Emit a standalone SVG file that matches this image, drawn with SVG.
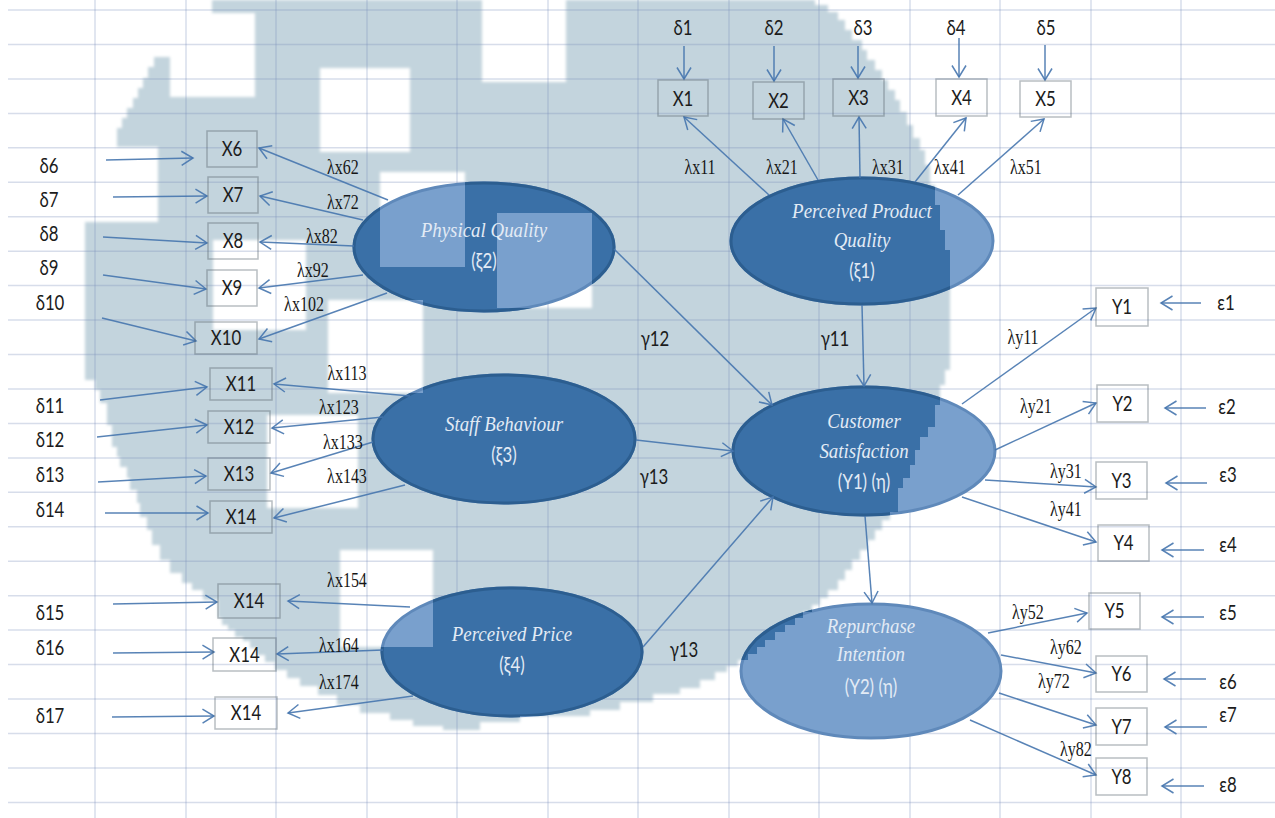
<svg xmlns="http://www.w3.org/2000/svg" width="1275" height="818" viewBox="0 0 1275 818">
  <defs>
    <style>
      .grid line { stroke: #7b8fb8; stroke-opacity: 0.3; stroke-width: 1.5; }
      .blob { fill: #c3d4dd; }
      .lat-light { fill: #79a0cd; stroke: #5f89ba; stroke-width: 3; }
      .lat-dark { fill: #3a70a7; stroke: #2c5e90; stroke-width: 3; }
      text { transform-box: fill-box; transform-origin: center; text-anchor: middle; }
      .lt { font-family: "Liberation Serif", serif; font-style: italic; font-size: 21px; fill: #e3ebf5; transform: scaleX(0.9); }
      .ls { font-family: Lato, "Liberation Sans", sans-serif; font-size: 21px; fill: #e3ebf5; transform: scaleX(0.8); }
      .box rect { fill: none; stroke: #56636d; stroke-opacity: 0.42; stroke-width: 1.5; }
      .s { font-family: Lato, "Liberation Sans", sans-serif; font-size: 21px; fill: #1c1c1c; transform: scaleX(0.8); }
      .lam { font-family: "Liberation Serif", serif; font-size: 20px; fill: #161616; transform: scaleX(0.8); }
      .conn line { stroke: #4675ae; stroke-opacity: 0.9; stroke-width: 1.5; fill: none; marker-end: url(#arr); }
    </style>
    <marker id="arr" viewBox="0 0 16 16" markerWidth="16" markerHeight="16" refX="13" refY="8" orient="auto" markerUnits="userSpaceOnUse" overflow="visible">
      <path d="M1.5,1 L13,8 L1.5,15" fill="none" stroke="#4675ae" stroke-opacity="0.9" stroke-width="1.5"/>
    </marker>
    <!-- pixelated watermark silhouette with its square cut-outs -->
    <path id="blobShape" fill-rule="evenodd" clip-rule="evenodd" d="M212,0 H815 V5 H828 V12 H838 V20 H845 V30 H852 V40 H862 V50 H867 V60 H875 V70 H882 V80 H888 V90 H895 V100 H900 V112 H907 V125 H913 V138 H920 V150 H925 V165 H930 V185 H935 V205 H940 V230 H945 V250 H950 V370 H945 V385 H940 V405 H935 V427 H928 V437 H920 V450 H915 V465 H910 V478 H903 V488 H898 V512 H890 V520 H882 V530 H875 V540 H868 V550 H860 V560 H852 V570 H845 V580 H838 V590 H828 V598 H820 V605 H812 V612 H803 V618 H795 V625 H785 V632 H775 V640 H765 V647 H757 V654 H748 V660 H738 V666 H727 V672 H715 V680 H700 V688 H680 V694 H653 V702 H620 V710 H590 V716 H520 V722 H480 V730 H443 V726 H413 V720 H390 V713 H360 V705 H337 V695 H318 V686 H300 V678 H287 V670 H275 V662 H265 V655 H257 V648 H250 V641 H243 V637 H235 V630 H228 V625 H222 V618 H218 V600 H203 V590 H192 V583 H182 V573 H170 V560 H160 V545 H152 V530 H147 V517 H140 V503 H137 V490 H130 V478 H127 V467 H120 V457 H117 V447 H112 V425 H107 V403 H100 V390 H95 V380 H85 V222 H158 V147 H117 V128 H122 V118 H127 V108 H133 V98 H138 V88 H143 V78 H148 V67 H154 V57 H170 V97 H255 V13 H212 Z
      M320,68 H410 V152 H320 Z
      M482,0 H566 V82 H482 Z
      M380,172 H465 V267 H380 Z
      M497,213 H592 V308 H497 Z
      M213,240 H306 V330 H213 Z
      M328,300 H423 V393 H328 Z
      M267,415 H358 V508 H267 Z
      M340,550 H433 V647 H340 Z"/>
    <clipPath id="blobClip">
      <use href="#blobShape"/>
    </clipPath>
    <filter id="soft" x="-5%" y="-5%" width="110%" height="110%">
      <feGaussianBlur stdDeviation="1.5"/>
    </filter>
  </defs>

  <rect width="1275" height="818" fill="#ffffff"/>

  <!-- background silhouette -->
  <use href="#blobShape" class="blob" filter="url(#soft)"/>

  <!-- sheet grid -->
  <g class="grid">
    <line x1="95" y1="0" x2="95" y2="818"/>
    <line x1="186" y1="0" x2="186" y2="818"/>
    <line x1="276" y1="0" x2="276" y2="818"/>
    <line x1="367" y1="0" x2="367" y2="818"/>
    <line x1="457" y1="0" x2="457" y2="818"/>
    <line x1="548" y1="0" x2="548" y2="818"/>
    <line x1="638" y1="0" x2="638" y2="818"/>
    <line x1="729" y1="0" x2="729" y2="818"/>
    <line x1="819" y1="0" x2="819" y2="818"/>
    <line x1="910" y1="0" x2="910" y2="818"/>
    <line x1="1000" y1="0" x2="1000" y2="818"/>
    <line x1="1091" y1="0" x2="1091" y2="818"/>
    <line x1="1181" y1="0" x2="1181" y2="818"/>
    <line x1="8" y1="10" x2="1275" y2="10"/>
    <line x1="8" y1="44.5" x2="1275" y2="44.5"/>
    <line x1="8" y1="78.9" x2="1275" y2="78.9"/>
    <line x1="8" y1="113.4" x2="1275" y2="113.4"/>
    <line x1="8" y1="147.8" x2="1275" y2="147.8"/>
    <line x1="8" y1="182.3" x2="1275" y2="182.3"/>
    <line x1="8" y1="216.7" x2="1275" y2="216.7"/>
    <line x1="8" y1="251.2" x2="1275" y2="251.2"/>
    <line x1="8" y1="285.6" x2="1275" y2="285.6"/>
    <line x1="8" y1="320.1" x2="1275" y2="320.1"/>
    <line x1="8" y1="354.5" x2="1275" y2="354.5"/>
    <line x1="8" y1="389" x2="1275" y2="389"/>
    <line x1="8" y1="423.4" x2="1275" y2="423.4"/>
    <line x1="8" y1="457.9" x2="1275" y2="457.9"/>
    <line x1="8" y1="492.3" x2="1275" y2="492.3"/>
    <line x1="8" y1="526.8" x2="1275" y2="526.8"/>
    <line x1="8" y1="561.2" x2="1275" y2="561.2"/>
    <line x1="8" y1="595.7" x2="1275" y2="595.7"/>
    <line x1="8" y1="630.1" x2="1275" y2="630.1"/>
    <line x1="8" y1="664.6" x2="1275" y2="664.6"/>
    <line x1="8" y1="699" x2="1275" y2="699"/>
    <line x1="8" y1="733.5" x2="1275" y2="733.5"/>
    <line x1="8" y1="767.9" x2="1275" y2="767.9"/>
    <line x1="8" y1="802.4" x2="1275" y2="802.4"/>
  </g>

  <!-- latent constructs -->
  <g id="physical-quality">
    <ellipse class="lat-light" cx="484" cy="247" rx="130" ry="64"/>
    <ellipse class="lat-dark" cx="484" cy="247" rx="130" ry="64" clip-path="url(#blobClip)"/>
    <text class="lt" x="484" y="237">Physical Quality</text>
    <text class="ls" x="484" y="268">(ξ2)</text>
  </g>
  <g id="perceived-product-quality">
    <ellipse class="lat-light" cx="862" cy="241" rx="131" ry="63"/>
    <ellipse class="lat-dark" cx="862" cy="241" rx="131" ry="63" clip-path="url(#blobClip)"/>
    <text class="lt" x="862" y="218">Perceived Product</text>
    <text class="lt" x="862" y="247">Quality</text>
    <text class="ls" x="862" y="278">(ξ1)</text>
  </g>
  <g id="staff-behaviour">
    <ellipse class="lat-light" cx="504" cy="439" rx="131" ry="64"/>
    <ellipse class="lat-dark" cx="504" cy="439" rx="131" ry="64" clip-path="url(#blobClip)"/>
    <text class="lt" x="504" y="431">Staff Behaviour</text>
    <text class="ls" x="504" y="462">(ξ3)</text>
  </g>
  <g id="customer-satisfaction">
    <ellipse class="lat-light" cx="864" cy="451" rx="131" ry="64"/>
    <ellipse class="lat-dark" cx="864" cy="451" rx="131" ry="64" clip-path="url(#blobClip)"/>
    <text class="lt" x="864" y="428">Customer</text>
    <text class="lt" x="864" y="458">Satisfaction</text>
    <text class="ls" x="864" y="489">(Y1) (η)</text>
  </g>
  <g id="perceived-price">
    <ellipse class="lat-light" cx="512" cy="652" rx="130" ry="64"/>
    <ellipse class="lat-dark" cx="512" cy="652" rx="130" ry="64" clip-path="url(#blobClip)"/>
    <text class="lt" x="512" y="641">Perceived Price</text>
    <text class="ls" x="512" y="672">(ξ4)</text>
  </g>
  <g id="repurchase-intention">
    <ellipse class="lat-light" cx="871" cy="671" rx="130" ry="67"/>
    <ellipse class="lat-dark" cx="871" cy="671" rx="130" ry="67" clip-path="url(#blobClip)"/>
    <text class="lt" x="871" y="633">Repurchase</text>
    <text class="lt" x="871" y="661">Intention</text>
    <text class="ls" x="871" y="694">(Y2) (η)</text>
  </g>

  <!-- paths and loadings -->
  <g id="connectors" class="conn">
    <line x1="684" y1="46" x2="684" y2="79"/>
    <line x1="774" y1="46" x2="774" y2="81"/>
    <line x1="858" y1="46" x2="858" y2="78"/>
    <line x1="959" y1="38" x2="959" y2="77"/>
    <line x1="1045" y1="45" x2="1045" y2="80"/>

    <line x1="769" y1="195" x2="684" y2="117"/>
    <line x1="818" y1="180" x2="783" y2="119"/>
    <line x1="860" y1="178" x2="859" y2="117"/>
    <line x1="915" y1="182" x2="966" y2="118"/>
    <line x1="958" y1="195" x2="1044" y2="119"/>

    <line x1="388" y1="200" x2="259" y2="148"/>
    <line x1="363" y1="220" x2="260" y2="196"/>
    <line x1="354" y1="246" x2="260" y2="242"/>
    <line x1="363" y1="275" x2="259" y2="288"/>
    <line x1="387" y1="293" x2="259" y2="339"/>

    <line x1="106" y1="160" x2="193" y2="158"/>
    <line x1="113" y1="197" x2="207" y2="196"/>
    <line x1="103" y1="237" x2="207" y2="243"/>
    <line x1="103" y1="275" x2="206" y2="289"/>
    <line x1="102" y1="318" x2="196" y2="341"/>
    <line x1="100" y1="400" x2="207" y2="387"/>
    <line x1="97" y1="437" x2="207" y2="425"/>
    <line x1="98" y1="482" x2="206" y2="476"/>
    <line x1="105" y1="513" x2="208" y2="513"/>
    <line x1="113" y1="604" x2="217" y2="602"/>
    <line x1="113" y1="653" x2="214" y2="652"/>
    <line x1="112" y1="717" x2="214" y2="716"/>

    <line x1="410" y1="396" x2="274" y2="384"/>
    <line x1="383" y1="417" x2="272" y2="428"/>
    <line x1="373" y1="442" x2="271" y2="473"/>
    <line x1="405" y1="485" x2="274" y2="518"/>

    <line x1="410" y1="607" x2="288" y2="601"/>
    <line x1="383" y1="650" x2="277" y2="654"/>
    <line x1="413" y1="696" x2="288" y2="713"/>

    <line x1="614" y1="249" x2="772" y2="405"/>
    <line x1="636" y1="440" x2="733" y2="451"/>
    <line x1="643" y1="647" x2="773" y2="497"/>
    <line x1="862" y1="305" x2="864" y2="386"/>
    <line x1="865" y1="516" x2="872" y2="603"/>

    <line x1="962" y1="404" x2="1096" y2="308"/>
    <line x1="995" y1="450" x2="1096" y2="403"/>
    <line x1="985" y1="480" x2="1096" y2="487"/>
    <line x1="962" y1="497" x2="1096" y2="542"/>
    <line x1="988" y1="633" x2="1087" y2="613"/>
    <line x1="1001" y1="655" x2="1096" y2="673"/>
    <line x1="999" y1="693" x2="1096" y2="725"/>
    <line x1="970" y1="720" x2="1096" y2="775"/>

    <line x1="1201" y1="303" x2="1161" y2="303"/>
    <line x1="1206" y1="408" x2="1165" y2="408"/>
    <line x1="1207" y1="483" x2="1166" y2="483"/>
    <line x1="1204" y1="550" x2="1162" y2="550"/>
    <line x1="1204" y1="617" x2="1162" y2="617"/>
    <line x1="1206" y1="679" x2="1164" y2="679"/>
    <line x1="1207" y1="727" x2="1165" y2="727"/>
    <line x1="1204" y1="786" x2="1162" y2="786"/>
  </g>

  <!-- loading and path coefficients -->
  <g id="coefficients">
    <text class="lam" x="700" y="174">λx11</text>
    <text class="lam" x="782" y="174">λx21</text>
    <text class="lam" x="888" y="174">λx31</text>
    <text class="lam" x="950" y="174">λx41</text>
    <text class="lam" x="1026" y="174">λx51</text>
    <text class="lam" x="343" y="174">λx62</text>
    <text class="lam" x="343" y="209">λx72</text>
    <text class="lam" x="322" y="243">λx82</text>
    <text class="lam" x="313" y="277">λx92</text>
    <text class="lam" x="304" y="311">λx102</text>
    <text class="lam" x="347" y="380">λx113</text>
    <text class="lam" x="339" y="414">λx123</text>
    <text class="lam" x="343" y="449">λx133</text>
    <text class="lam" x="347" y="483">λx143</text>
    <text class="lam" x="347" y="587">λx154</text>
    <text class="lam" x="339" y="652">λx164</text>
    <text class="lam" x="339" y="689">λx174</text>
    <text class="lam" x="1023" y="344">λy11</text>
    <text class="lam" x="1036" y="413">λy21</text>
    <text class="lam" x="1066" y="478">λy31</text>
    <text class="lam" x="1066" y="516">λy41</text>
    <text class="lam" x="1028" y="619">λy52</text>
    <text class="lam" x="1066" y="654">λy62</text>
    <text class="lam" x="1054" y="688">λy72</text>
    <text class="lam" x="1076" y="756">λy82</text>
    <text class="s" x="655" y="346">γ12</text>
    <text class="s" x="835" y="346">γ11</text>
    <text class="s" x="654" y="484">γ13</text>
    <text class="s" x="684" y="657">γ13</text>
  </g>

  <!-- observed indicators -->
  <g id="x1" class="box"><rect x="658" y="80" width="50" height="36"/><text class="s" x="683" y="106">X1</text></g>
  <g id="x2" class="box"><rect x="753" y="82" width="51" height="37"/><text class="s" x="778.5" y="108">X2</text></g>
  <g id="x3" class="box"><rect x="833" y="79" width="51" height="37"/><text class="s" x="858.5" y="105">X3</text></g>
  <g id="x4" class="box"><rect x="936" y="79" width="51" height="37"/><text class="s" x="961.5" y="105">X4</text></g>
  <g id="x5" class="box"><rect x="1020" y="81" width="51" height="36"/><text class="s" x="1045.5" y="106.5">X5</text></g>
  <g id="x6" class="box"><rect x="207" y="131" width="50" height="36"/><text class="s" x="232" y="156.5">X6</text></g>
  <g id="x7" class="box"><rect x="208" y="177" width="50" height="36"/><text class="s" x="233" y="202.5">X7</text></g>
  <g id="x8" class="box"><rect x="208" y="223" width="50" height="36"/><text class="s" x="233" y="248.5">X8</text></g>
  <g id="x9" class="box"><rect x="207" y="270" width="50" height="36"/><text class="s" x="232" y="295.5">X9</text></g>
  <g id="x10" class="box"><rect x="195" y="322" width="62" height="32"/><text class="s" x="226" y="345.5">X10</text></g>
  <g id="x11" class="box"><rect x="210" y="368" width="62" height="32"/><text class="s" x="241" y="391.5">X11</text></g>
  <g id="x12" class="box"><rect x="208" y="411" width="62" height="32"/><text class="s" x="239" y="434.5">X12</text></g>
  <g id="x13" class="box"><rect x="208" y="458" width="62" height="32"/><text class="s" x="239" y="481.5">X13</text></g>
  <g id="x14" class="box"><rect x="210" y="501" width="62" height="32"/><text class="s" x="241" y="524.5">X14</text></g>
  <g id="x15" class="box"><rect x="218" y="584" width="62" height="34"/><text class="s" x="249" y="608.5">X14</text></g>
  <g id="x16" class="box"><rect x="213" y="638" width="63" height="33"/><text class="s" x="244.5" y="662">X14</text></g>
  <g id="x17" class="box"><rect x="215" y="697" width="62" height="32"/><text class="s" x="246" y="720.5">X14</text></g>
  <g id="y1" class="box"><rect x="1096" y="288" width="52" height="38"/><text class="s" x="1122" y="314.5">Y1</text></g>
  <g id="y2" class="box"><rect x="1097" y="385" width="51" height="37"/><text class="s" x="1122.5" y="411">Y2</text></g>
  <g id="y3" class="box"><rect x="1096" y="462" width="51" height="37"/><text class="s" x="1121.5" y="488">Y3</text></g>
  <g id="y4" class="box"><rect x="1098" y="525" width="51" height="36"/><text class="s" x="1123.5" y="550.5">Y4</text></g>
  <g id="y5" class="box"><rect x="1089" y="593" width="51" height="36"/><text class="s" x="1114.5" y="618.5">Y5</text></g>
  <g id="y6" class="box"><rect x="1096" y="656" width="51" height="36"/><text class="s" x="1121.5" y="681.5">Y6</text></g>
  <g id="y7" class="box"><rect x="1096" y="708" width="51" height="37"/><text class="s" x="1121.5" y="734">Y7</text></g>
  <g id="y8" class="box"><rect x="1096" y="758" width="51" height="37"/><text class="s" x="1121.5" y="784">Y8</text></g>

  <!-- measurement error terms -->
  <g id="d1"><text class="s" x="683" y="35">δ1</text></g>
  <g id="d2"><text class="s" x="774" y="35">δ2</text></g>
  <g id="d3"><text class="s" x="863" y="35">δ3</text></g>
  <g id="d4"><text class="s" x="956" y="35">δ4</text></g>
  <g id="d5"><text class="s" x="1046" y="35">δ5</text></g>
  <g id="d6"><text class="s" x="49" y="173">δ6</text></g>
  <g id="d7"><text class="s" x="49" y="207">δ7</text></g>
  <g id="d8"><text class="s" x="49" y="241">δ8</text></g>
  <g id="d9"><text class="s" x="49" y="275">δ9</text></g>
  <g id="d10"><text class="s" x="50" y="310">δ10</text></g>
  <g id="d11"><text class="s" x="50" y="413">δ11</text></g>
  <g id="d12"><text class="s" x="50" y="447">δ12</text></g>
  <g id="d13"><text class="s" x="50" y="482">δ13</text></g>
  <g id="d14"><text class="s" x="50" y="517">δ14</text></g>
  <g id="d15"><text class="s" x="50" y="620">δ15</text></g>
  <g id="d16"><text class="s" x="50" y="655">δ16</text></g>
  <g id="d17"><text class="s" x="50" y="723">δ17</text></g>
  <g id="e1"><text class="s" x="1226" y="310">ε1</text></g>
  <g id="e2"><text class="s" x="1227" y="414">ε2</text></g>
  <g id="e3"><text class="s" x="1228" y="482">ε3</text></g>
  <g id="e4"><text class="s" x="1228" y="552">ε4</text></g>
  <g id="e5"><text class="s" x="1228" y="620">ε5</text></g>
  <g id="e6"><text class="s" x="1228" y="689">ε6</text></g>
  <g id="e7"><text class="s" x="1228" y="722">ε7</text></g>
  <g id="e8"><text class="s" x="1228" y="792">ε8</text></g>
</svg>
